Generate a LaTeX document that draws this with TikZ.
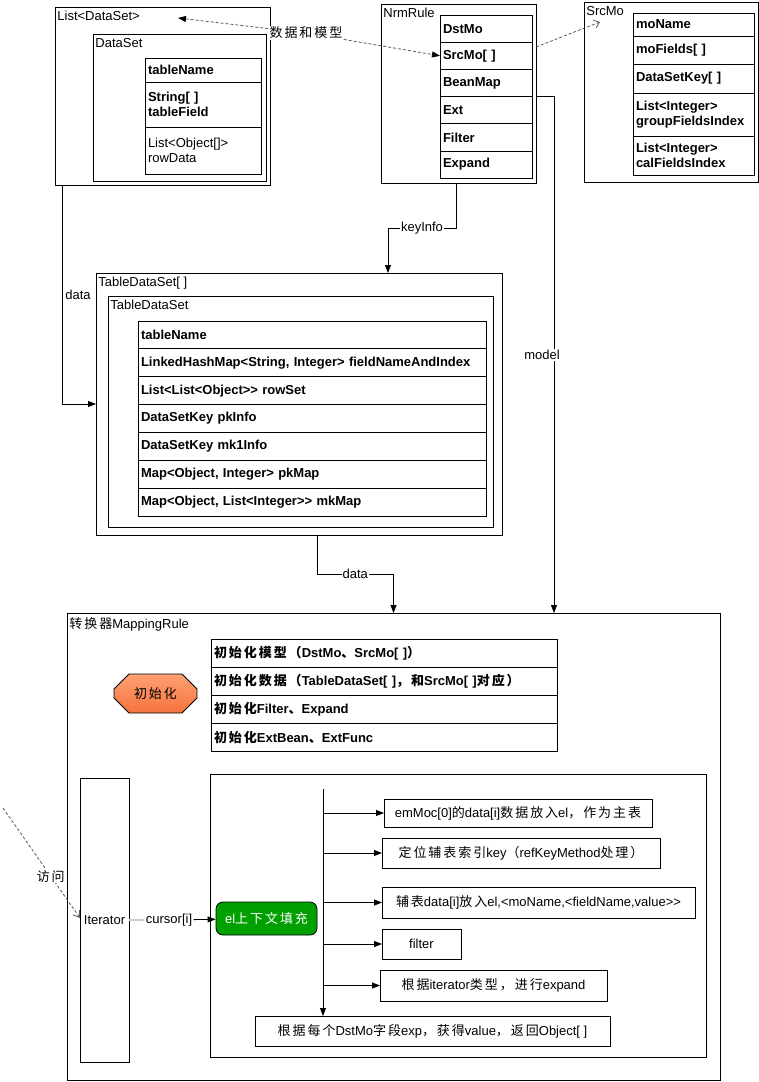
\documentclass[tikz,border=0pt]{standalone}
\usepackage{fontspec}
\setmainfont{Liberation Sans}
\newfontfamily\zhfont{Noto Sans CJK SC}[LetterSpace=15]
\usetikzlibrary{positioning, arrows.meta, shapes.misc}

\definecolor{initlight}{RGB}{255,160,115}
\definecolor{initdark}{RGB}{245,115,60}
\definecolor{fillgreen}{RGB}{0,160,0}

\begin{document}
\begin{tikzpicture}[x=1pt, y=-1pt, line width=0.8pt, font=\fontsize{13}{15}\selectfont]
    \tikzstyle{frame} = [rectangle, 
draw=black, 
anchor=north west, 
inner sep=0pt, 
outer sep=0pt]

\tikzstyle{title} = [anchor=north west, inner xsep=2pt, inner ysep=4pt]

\tikzstyle{field} = [rectangle, 
draw=black, 
align=left, 
inner xsep=3pt, 
inner ysep=0pt, 
outer sep=0pt,
font=\fontsize{13}{15}\selectfont\bfseries]

\tikzstyle{nrmfield} = [field, text width=86pt, minimum height=27.2pt]
\tikzstyle{tdsfield} = [field, text width=342pt, minimum height=27.86pt]
\tikzstyle{initfield} = [field, text width=340pt, minimum height=28pt]

\tikzstyle{stepbox} = [rectangle, 
minimum height=30pt, 
text centered, 
inner sep=2pt, 
outer sep=0pt,
draw=black]

\tikzstyle{arrow} = [->, >={Triangle[length=8pt,width=6pt]}]
\tikzstyle{dasharrow} = [draw=gray!70!black, dash pattern=on 3pt off 2pt]
\tikzstyle{onwire} = [fill=white, inner sep=1pt]

\useasboundingbox (0,0) rectangle (759,1082);

% data sets
\node (lds) [frame, minimum width=215pt, minimum height=178pt] at (55,7) {};
\node (ldslbl) [title] at (lds.north west) {List<DataSet>};
\node (ds) [frame, minimum width=173pt, minimum height=147pt] at (93,34) {};
\node (dslbl) [title] at (ds.north west) {DataSet};
\node (dsname) [field, text width=110pt, minimum height=24pt, anchor=north west] at (145,58) {tableName};
\node (dsfield) [field, text width=110pt, minimum height=45pt, below=0pt of dsname] {String[ ]\\tableField};
\node (dsrow) [field, text width=110pt, minimum height=47pt, below=0pt of dsfield, font=\fontsize{13}{15}\selectfont] {List<Object[]>\\rowData};

% rule
\node (nrm) [frame, minimum width=155pt, minimum height=179pt] at (381,4) {};
\node (nrmlbl) [title] at (nrm.north west) {NrmRule};
\node (dst) [nrmfield, anchor=north west] at (440,15) {DstMo};
\node (src) [nrmfield, below=0pt of dst] {SrcMo[ ]};
\node (bean) [nrmfield, below=0pt of src] {BeanMap};
\node (ext) [nrmfield, below=0pt of bean] {Ext};
\node (flt) [nrmfield, below=0pt of ext] {Filter};
\node (expd) [nrmfield, below=0pt of flt] {Expand};

% source model
\node (srcmo) [frame, minimum width=174pt, minimum height=180pt] at (584,2) {};
\node (srcmolbl) [title] at (srcmo.north west) {SrcMo};
\node (moname) [field, text width=115pt, minimum height=23pt, anchor=north west] at (633,13) {moName};
\node (mofields) [field, text width=115pt, minimum height=28pt, below=0pt of moname] {moFields[ ]};
\node (mokey) [field, text width=115pt, minimum height=29pt, below=0pt of mofields] {DataSetKey[ ]};
\node (mogroup) [field, text width=115pt, minimum height=43pt, below=0pt of mokey] {List<Integer>\\groupFieldsIndex};
\node (mocal) [field, text width=115pt, minimum height=39pt, below=0pt of mogroup] {List<Integer>\\calFieldsIndex};

\node (mix) [onwire] at (306,33) {\zhfont 数据和模型};
\coordinate (ldsin) at (178,18);
\coordinate (srcmoin) at (600,22);

% table data sets
\node (tds) [frame, minimum width=406pt, minimum height=262pt] at (96,273) {};
\node (tdslbl) [title] at (tds.north west) {TableDataSet[ ]};
\node (tdsin) [frame, minimum width=385pt, minimum height=231pt] at (108,296) {};
\node (tdsinlbl) [title] at (tdsin.north west) {TableDataSet};
\node (tname) [tdsfield, anchor=north west] at (138,321) {tableName};
\node (tindex) [tdsfield, below=0pt of tname] {LinkedHashMap<String, Integer> fieldNameAndIndex};
\node (trows) [tdsfield, below=0pt of tindex] {List<List<Object>{}> rowSet};
\node (tpk) [tdsfield, below=0pt of trows] {DataSetKey pkInfo};
\node (tmk) [tdsfield, below=0pt of tpk] {DataSetKey mk1Info};
\node (tpkmap) [tdsfield, below=0pt of tmk] {Map<Object, Integer> pkMap};
\node (tmkmap) [tdsfield, below=0pt of tpkmap] {Map<Object, List<Integer>{}> mkMap};

% mapping rule
\node (mr) [frame, minimum width=653pt, minimum height=467pt] at (67,613) {};
\node (mrlbl) [title] at (mr.north west) {{\zhfont 转换器}MappingRule};
\node (init) [chamfered rectangle, 
chamfered rectangle xsep=14pt, 
chamfered rectangle ysep=9pt, 
minimum width=83pt, 
minimum height=39pt, 
inner sep=0pt,
top color=initlight, bottom color=initdark,
draw=black] at (155.5,693.5) {\zhfont 初始化};
\node (initmo) [initfield, anchor=north west] at (211,639) {{\zhfont 初始化模型（}DstMo{\zhfont 、}SrcMo[ ]{\zhfont ）}};
\node (initdata) [initfield, below=0pt of initmo] {{\zhfont 初始化数据（}TableDataSet[ ]{\zhfont ，和}SrcMo[ ]{\zhfont 对应）}};
\node (initflt) [initfield, below=0pt of initdata] {{\zhfont 初始化}Filter{\zhfont 、}Expand};
\node (initext) [initfield, below=0pt of initflt] {{\zhfont 初始化}ExtBean{\zhfont 、}ExtFunc};

\node (iter) [frame, minimum width=49pt, minimum height=284pt] at (80,778) {Iterator};
\node (loop) [frame, minimum width=496pt, minimum height=283pt] at (210,774) {};
\node (cur) [inner sep=1pt] at (169,920) {cursor[i]};
\node (fill) [rectangle, rounded corners=7pt, 
minimum width=101pt, 
minimum height=33pt, 
inner sep=0pt,
fill=fillgreen, text=white,
draw=black] at (266.5,918.5) {el{\zhfont 上下文填充}};
\coordinate (trunk) at (323,789);
\coordinate (visitor) at (3,808);

\node (s1) [stepbox, minimum width=268pt, minimum height=28pt, anchor=west] at (384,813) {emMoc[0]{\zhfont 的}data[i]{\zhfont 数据放入}el{\zhfont ，作为主表}};
\node (s2) [stepbox, minimum width=278pt, anchor=west] at (382,853) {{\zhfont 定位辅表索引}key{\zhfont （}refKeyMethod{\zhfont 处理）}};
\node (s3) [stepbox, minimum width=313pt, minimum height=31pt, anchor=west] at (382,902.5) {{\zhfont 辅表}data[i]{\zhfont 放入}el,<moName,<fieldName,value>{}>};
\node (s4) [stepbox, minimum width=79pt, anchor=west] at (382,944) {filter};
\node (s5) [stepbox, minimum width=227pt, minimum height=31pt, anchor=west] at (380,985.5) {{\zhfont 根据}iterator{\zhfont 类型，进行}expand};
\node (final) [stepbox, minimum width=355pt, anchor=west] at (255,1031) {{\zhfont 根据每个}DstMo{\zhfont 字段}exp{\zhfont ，获得}value{\zhfont ，返回}Object[ ]};

\draw [dasharrow, -{Triangle[length=8pt,width=6pt,color=black]}] (mix) -- (ldsin);
\draw [dasharrow, -{Triangle[length=8pt,width=6pt,color=black]}] (mix) -- (src.west);
\draw [dasharrow, -{Straight Barb[length=5pt,width=8pt]}] ([yshift=46.5pt]nrm.east) -- (srcmoin);
\draw [arrow] ([xshift=7pt]lds.south west) |- node[pos=0.25, right, inner sep=3pt] {data} (tds.west);
\draw [arrow] ([xshift=-2.5pt]nrm.south) -- ++(0,45) -| node[pos=0.25, onwire] {keyInfo} ([xshift=89pt]tds.north);
\draw [arrow] ([xshift=18pt]tds.south) -- ++(0,39) -| node[pos=0.25, onwire] {data} (mr.north);
\draw [arrow] (nrm.east |- bean.south) -| node[pos=0.75, onwire, xshift=-12pt] {model} ([xshift=160.5pt]mr.north);
\draw [dasharrow, -{Straight Barb[length=6pt,width=8pt]}] (visitor) -- node[pos=0.62, onwire] {\zhfont 访问} ([yshift=2pt]iter.west);
\draw [gray!40, line width=1.5pt] (iter.east) -- (cur.west);
\draw [arrow] (cur) -- (fill);
\draw [arrow] (trunk) -- (trunk |- final.north);
\draw [arrow] (trunk |- s1.west) -- (s1.west);
\draw [arrow] (trunk |- s2.west) -- (s2.west);
\draw [arrow] (trunk |- s3.west) -- (s3.west);
\draw [arrow] (trunk |- s4.west) -- (s4.west);
\draw [arrow] (trunk |- s5.west) -- (s5.west);

\end{tikzpicture}
\end{document}
